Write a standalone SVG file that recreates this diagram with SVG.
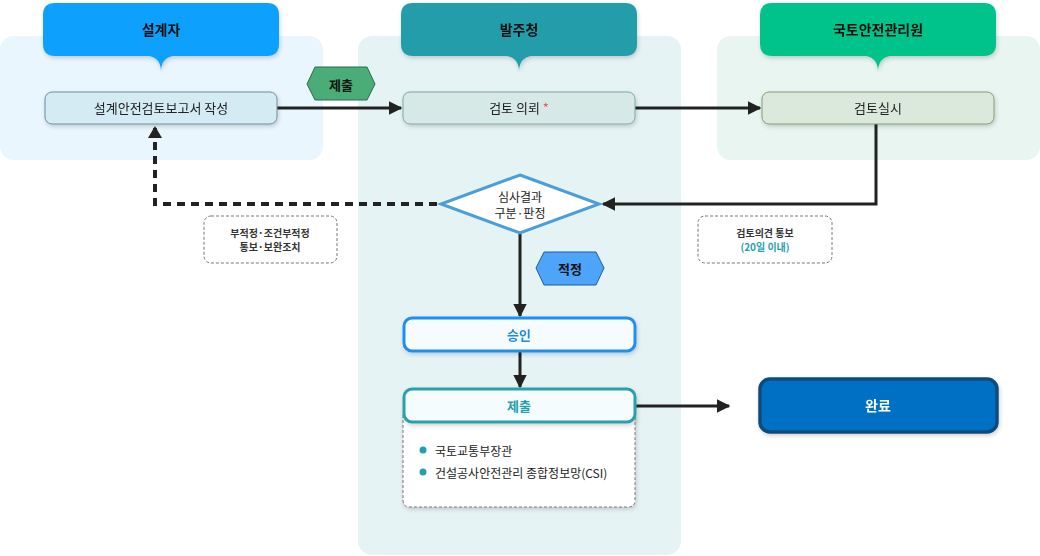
<svg xmlns="http://www.w3.org/2000/svg" width="1040" height="556" viewBox="0 0 1040 556">
<defs>
<filter id="sh" x="-10%" y="-20%" width="120%" height="150%"><feDropShadow dx="1" dy="2" stdDeviation="2" flood-color="#000" flood-opacity="0.18"/></filter>
<marker id="ah" viewBox="0 0 10 10" refX="9" refY="5" markerWidth="4.5" markerHeight="4.5" markerUnits="strokeWidth" orient="auto"><path d="M0,0 L10,5 L0,10 z" fill="#222"/></marker>
</defs>
<style>
text{font-family:"Noto Sans CJK KR","Noto Sans",sans-serif;text-anchor:middle;dominant-baseline:central}
.hd{font-size:14px;font-weight:700;fill:#111}
.pb{font-size:13px;fill:#222}
.note{fill:#fff;stroke:#777;stroke-width:1;stroke-dasharray:3,2}
.nt{font-size:10px;font-weight:700;fill:#333}
.ln{fill:none;stroke:#222;stroke-width:3}
</style>
<g id="lanes">
<rect x="0" y="36" width="323" height="124" rx="14" fill="#e9f6fd"/>
<rect x="358" y="36" width="323" height="519" rx="14" fill="#e6f3f5"/>
<rect x="717" y="36" width="323" height="124" rx="14" fill="#e8f5f1"/>
</g>
<g id="hdr-designer" filter="url(#sh)">
<path d="M55,3 H267 Q279,3 279,15 V44 Q279,56 267,56 H173 Q161,58 161,72 Q161,58 149,56 H55 Q43,56 43,44 V15 Q43,3 55,3 Z" fill="#0ea0fc"/>
<text class="hd" x="161" y="29">설계자</text>
</g>
<g id="hdr-owner" filter="url(#sh)">
<path d="M413,3 H625 Q637,3 637,15 V44 Q637,56 625,56 H531 Q519,58 519,72 Q519,58 507,56 H413 Q401,56 401,44 V15 Q401,3 413,3 Z" fill="#219da9"/>
<text class="hd" x="519" y="29">발주청</text>
</g>
<g id="hdr-kalis" filter="url(#sh)">
<path d="M772,3 H984 Q996,3 996,15 V44 Q996,56 984,56 H890 Q878,58 878,72 Q878,58 866,56 H772 Q760,56 760,44 V15 Q760,3 772,3 Z" fill="#00c28b"/>
<text class="hd" x="878" y="29">국토안전관리원</text>
</g>
<g id="connectors">
<line class="ln" x1="277" y1="108" x2="401" y2="108" marker-end="url(#ah)"/>
<line class="ln" x1="635" y1="108" x2="760" y2="108" marker-end="url(#ah)"/>
<polyline class="ln" points="876,124 876,204 603,204" marker-end="url(#ah)"/>
<polyline fill="none" stroke="#222" stroke-width="4" stroke-dasharray="8,6" points="437,204 155,204 155,128"/>
<path d="M148,138 L155,126 L162,138 Z" fill="#222"/>
<line class="ln" x1="520" y1="233" x2="520" y2="316" marker-end="url(#ah)"/>
<line class="ln" x1="520" y1="351" x2="520" y2="387" marker-end="url(#ah)"/>
<line class="ln" x1="635" y1="406" x2="729" y2="406" marker-end="url(#ah)"/>
</g>
<g id="tag-submit">
<polygon points="315,67 367,67 375,84 367,100 315,100 307,84" fill="#4aad77" stroke="#2b6b4a" stroke-width="1"/>
<text x="341" y="84" style="font-size:13px;font-weight:700;fill:#111">제출</text>
</g>
<g id="n-report" filter="url(#sh)">
<rect x="45" y="92" width="232" height="32" rx="7" fill="#d4ebf4" stroke="#6b8ea3" stroke-width="1"/>
<text class="pb" x="161" y="107">설계안전검토보고서 작성</text>
</g>
<g id="n-request" filter="url(#sh)">
<rect x="403" y="92" width="232" height="32" rx="7" fill="#d7e9e7" stroke="#7ea89d" stroke-width="1"/>
<text class="pb" x="519" y="107">검토 의뢰 <tspan fill="#f0505a">*</tspan></text>
</g>
<g id="n-review" filter="url(#sh)">
<rect x="762" y="92" width="232" height="32" rx="7" fill="#dbe8dc" stroke="#809f72" stroke-width="1"/>
<text class="pb" x="878" y="107">검토실시</text>
</g>
<g id="n-decision">
<polygon points="520,175 599,204 520,233 441,204" fill="#fff" stroke="#4a9fd8" stroke-width="3"/>
<text x="520" y="196" style="font-size:12px;fill:#222">심사결과</text>
<text x="520" y="212" style="font-size:12px;fill:#222">구분·판정</text>
</g>
<g id="note-unfit">
<rect class="note" x="204" y="216" width="133" height="47" rx="7"/>
<text class="nt" x="270" y="232">부적정·조건부적정</text>
<text class="nt" x="270" y="246">통보·보완조치</text>
</g>
<g id="note-opinion">
<rect class="note" x="698" y="216" width="134" height="47" rx="7"/>
<text class="nt" x="765" y="232">검토의견 통보</text>
<text class="nt" x="765" y="246" style="fill:#1fa1b3">(20일 이내)</text>
</g>
<g id="tag-fit">
<polygon points="544,252 596,252 604,268 596,285 544,285 536,268" fill="#4da4f8" stroke="#1d5d9c" stroke-width="1"/>
<text x="570" y="268" style="font-size:13px;font-weight:700;fill:#111">적정</text>
</g>
<g id="n-approve" filter="url(#sh)">
<rect x="404" y="318" width="231" height="33" rx="8" fill="#f5fbff" stroke="#1e8ff0" stroke-width="3"/>
<text x="519" y="334" style="font-size:13px;font-weight:700;fill:#1b8ce8">승인</text>
</g>
<g id="n-submit">
<path d="M403,415 V500 Q403,507 410,507 H628 Q635,507 635,500 V415" fill="#fff" stroke="#777" stroke-width="1" stroke-dasharray="3,2" filter="url(#sh)"/>
<rect x="404" y="389" width="231" height="33" rx="8" fill="#f5fcfd" stroke="#2aa1aa" stroke-width="3" filter="url(#sh)"/>
<text x="519" y="405" style="font-size:13px;font-weight:700;fill:#22a0aa">제출</text>
<circle cx="423" cy="450" r="3.5" fill="#22a0aa"/>
<circle cx="423" cy="472" r="3.5" fill="#22a0aa"/>
<text x="435" y="450" style="font-size:12px;fill:#222;text-anchor:start">국토교통부장관</text>
<text x="435" y="472" style="font-size:12px;fill:#222;text-anchor:start">건설공사안전관리 종합정보망(CSI)</text>
</g>
<g id="n-done" filter="url(#sh)">
<rect x="760" y="379" width="237" height="53" rx="10" fill="#0070c4" stroke="#0b4c7c" stroke-width="3.5"/>
<text x="878" y="405" style="font-size:14px;font-weight:700;fill:#fff">완료</text>
</g>
</svg>
